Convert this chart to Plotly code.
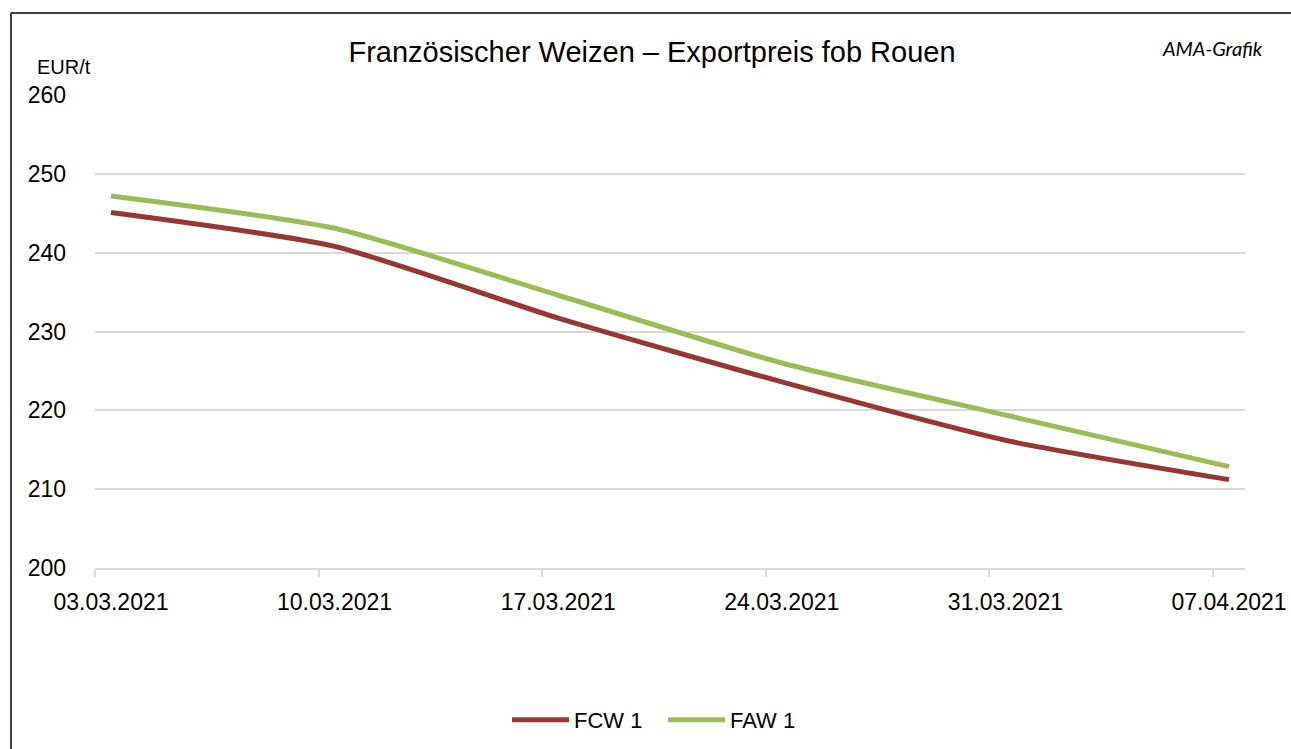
import plotly.graph_objects as go
import pandas as pd

dates = ["2021-03-03", "2021-03-10", "2021-03-17", "2021-03-24", "2021-03-31", "2021-04-07"]
tick_labels = ["03.03.2021", "10.03.2021", "17.03.2021", "24.03.2021", "31.03.2021", "07.04.2021"]
fcw1 = [245.1, 240.8, 231.7, 223.6, 216.2, 211.2]
faw1 = [247.2, 243.1, 234.6, 226.0, 219.4, 212.85]

# tick marks sit half a day before each category date (Excel "between tick marks")
tick_marks = [(pd.Timestamp(d) - pd.Timedelta(hours=12)).strftime("%Y-%m-%d %H:%M") for d in dates]
x_range = [tick_marks[0], (pd.Timestamp(dates[-1]) + pd.Timedelta(hours=12)).strftime("%Y-%m-%d %H:%M")]

W, H = 1291, 749
L, T, R, B = 95, 95, 46, 181
PW, PH = W - L - R, H - T - B


def px(x):
    return (x - L) / PW


def py(y):
    return (H - B - y) / PH


fig = go.Figure()
fig.add_trace(go.Scatter(x=dates, y=fcw1, name="FCW 1", mode="lines",
                         line=dict(color="#953735", width=5, shape="spline", smoothing=0.6)))
fig.add_trace(go.Scatter(x=dates, y=faw1, name="FAW 1", mode="lines",
                         line=dict(color="#9BBB59", width=5, shape="spline", smoothing=0.6)))

fig.update_layout(
    width=W, height=H, autosize=False,
    margin=dict(l=L, r=R, t=T, b=B, autoexpand=False),
    paper_bgcolor="white", plot_bgcolor="white",
    font=dict(family="Liberation Sans, Arial", size=23, color="#000000"),
    title=dict(text="Französischer Weizen – Exportpreis fob Rouen", x=652 / W, xanchor="center",
               y=1 - 52 / H, yanchor="middle", font=dict(size=29)),
    showlegend=True,
    legend=dict(orientation="h", x=px(663), xanchor="center", y=py(720), yanchor="middle",
                font=dict(size=22), itemwidth=57, entrywidth=84),
    xaxis=dict(type="date", range=x_range, automargin=False,
               tickvals=dates, ticktext=tick_labels, showgrid=False,
               showline=True, linecolor="#d9d9d9", linewidth=1.5,
               ticks="", ticklabelstandoff=13, tickfont=dict(size=23),
               minor=dict(tickvals=tick_marks, ticks="outside", ticklen=7,
                          tickcolor="#d9d9d9", tickwidth=1.5, showgrid=False)),
    yaxis=dict(range=[199.98, 260.02], tickvals=[200, 210, 220, 230, 240, 250, 260],
               automargin=False,
               showgrid=True, gridcolor="#d9d9d9", gridwidth=1.5,
               zeroline=False, showline=False, ticks="",
               ticklabelstandoff=28, tickfont=dict(size=23)),
    shapes=[
        dict(type="line", xref="paper", yref="paper", x0=px(11), x1=px(11), y0=-0.6, y1=py(13),
             line=dict(color="black", width=1.5), layer="below"),
        dict(type="line", xref="paper", yref="paper", x0=px(11), x1=1.2, y0=py(13), y1=py(13),
             line=dict(color="black", width=1.5), layer="below"),
    ],
    annotations=[
        dict(text="EUR/t", xref="paper", yref="paper", x=px(64), y=py(67),
             xanchor="center", yanchor="middle", showarrow=False, font=dict(size=20)),
        dict(text="<i>AMA-Grafik</i>", xref="paper", yref="paper", x=px(1212),
             y=py(48), xanchor="center", yanchor="middle", showarrow=False,
             font=dict(size=20, family="Lato, Open Sans, Liberation Sans")),
    ],
)

fig.write_html("out.html", config={"displayModeBar": False},
               post_script="document.body.style.margin='0px';")
